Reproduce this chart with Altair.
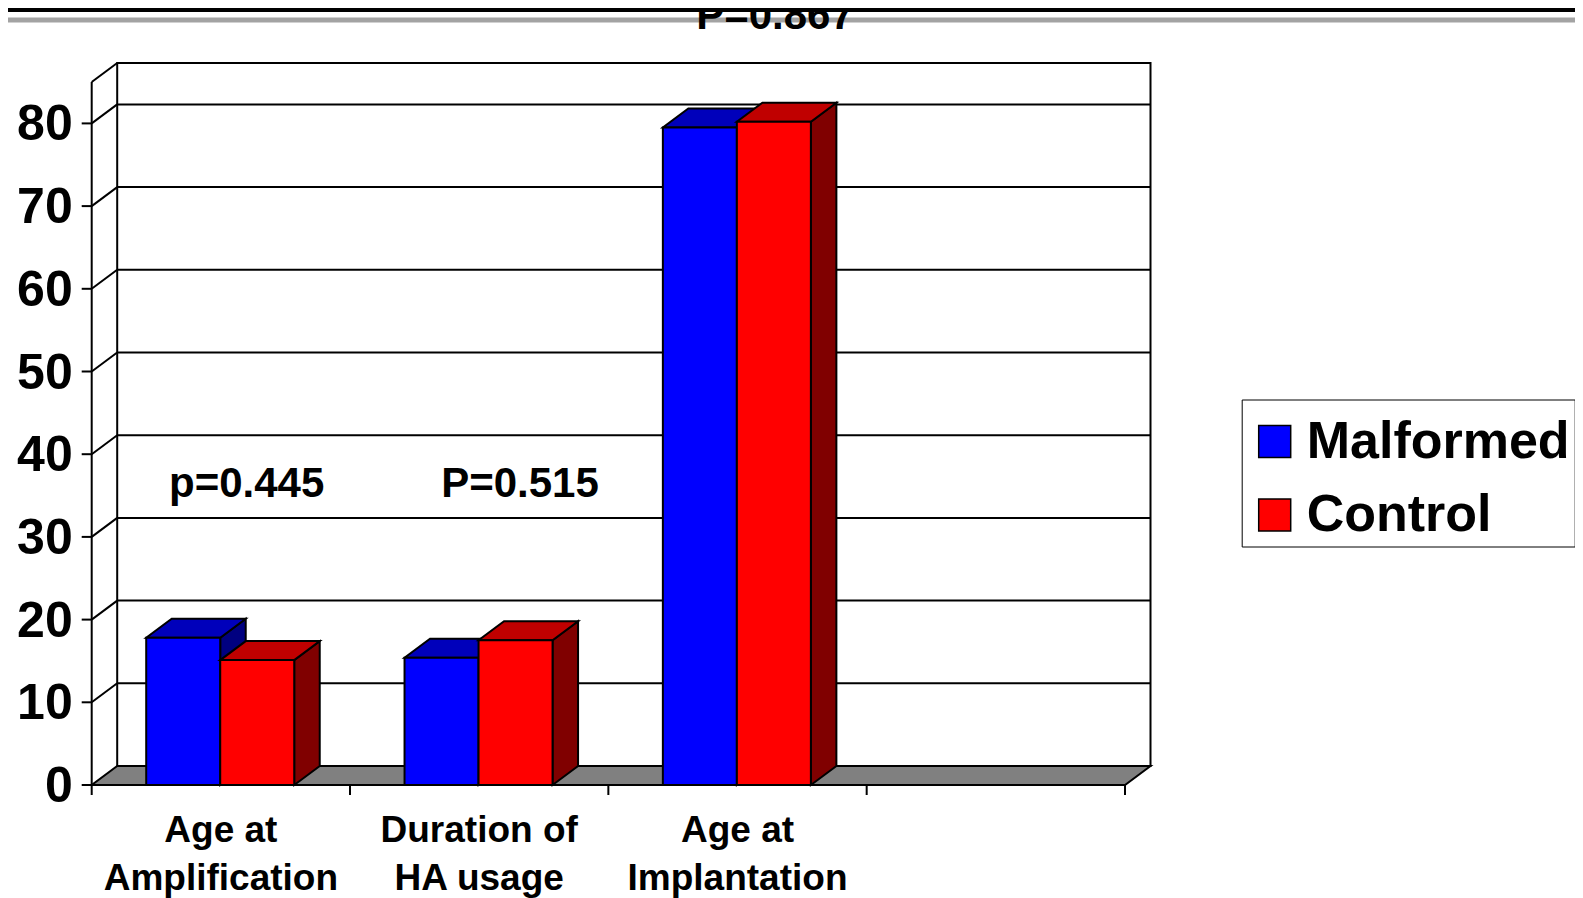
import altair as alt
import pandas as pd

# ---------------- data ----------------
categories = ["Age at\nAmplification", "Duration of\nHA usage", "Age at\nImplantation"]
series = ["Malformed", "Control"]
malformed = [17.8, 15.4, 79.5]
control = [15.1, 17.5, 80.2]
p_texts = ["p=0.445", "P=0.515", "P=0.867"]
y_ticks = [0, 10, 20, 30, 40, 50, 60, 70, 80]

# ------------- geometry of the pseudo-3D box (in scale units) -------------
N_SLOTS = 4
WALL_TOP = 85.0
DX = 25.5 / 258.3      # depth offset in category units
DY = 19.0 / 8.27       # depth offset in value units
BAR_START = 0.211
BAR_W = 0.2865
YTICK_LEN = 10 / 258.3
XTICK_LEN = 10 / 8.27
P_POS = [(0.600, 36.4), (1.658, 36.4), (2.645, 93.0)]

FONT = "Liberation Sans"
FRONT = {"Malformed": "#0000FF", "Control": "#FF0000"}
TOP = {"Malformed": "#0000BB", "Control": "#C00000"}
SIDE = {"Malformed": "#000080", "Control": "#800000"}

xs = alt.Scale(domain=[0, N_SLOTS], range=[83.7, 1117.0], nice=False, zero=False)
ys = alt.Scale(domain=[0, 80], range=[777.0, 115.4], nice=False, zero=False)

def X(f):
    return alt.X(f, scale=xs, axis=None)

def Y(f):
    return alt.Y(f, scale=ys, axis=None, stack=None)

# ------------- build tables -------------
bar_rows, top_rows, side_rows = [], [], []
for i, cat in enumerate(categories):
    for j, s in enumerate(series):
        v = (malformed if s == "Malformed" else control)[i]
        x0 = i + BAR_START + j * BAR_W
        x1 = x0 + BAR_W
        bar_rows.append(dict(cat=i, series=s, x0=x0, x1=x1, base=0.0, value=v))
        for x, lo, hi in [(x0, v, v), (x0 + DX, v, v + DY), (x1, v, v + DY), (x1 + DX, v + DY, v + DY)]:
            top_rows.append(dict(cat=i, series=s, x=x, lo=lo, hi=hi))
        for x, lo, hi in [(x1, 0.0, v), (x1 + DX, DY, v + DY)]:
            side_rows.append(dict(cat=i, series=s, x=x, lo=lo, hi=hi))
bars = pd.DataFrame(bar_rows)
tops = pd.DataFrame(top_rows)
sides = pd.DataFrame(side_rows)

wall = pd.DataFrame([dict(x0=DX, x1=N_SLOTS + DX, y0=DY, y1=WALL_TOP + DY)])
grid = pd.DataFrame([dict(x0=DX, x1=N_SLOTS + DX, y=v + DY) for v in y_ticks[1:]])
diag = pd.DataFrame([dict(x0=0.0, x1=DX, y0=v, y1=v + DY) for v in y_ticks[1:] + [WALL_TOP]])
front_axis = pd.DataFrame([dict(x=0.0, y0=0.0, y1=WALL_TOP)])
floor = pd.DataFrame([
    dict(x=0.0, lo=0.0, hi=0.0),
    dict(x=DX, lo=0.0, hi=DY),
    dict(x=float(N_SLOTS), lo=0.0, hi=DY),
    dict(x=N_SLOTS + DX, lo=DY, hi=DY),
])
yt = pd.DataFrame([dict(x0=-YTICK_LEN, x1=0.0, y=float(v), label=str(v)) for v in y_ticks])
xt = pd.DataFrame([dict(x=float(k), y0=0.0, y1=-XTICK_LEN) for k in range(N_SLOTS + 1)])
xl = pd.DataFrame([dict(x=i + 0.5, y=0.0, label=c) for i, c in enumerate(categories)])
pl = pd.DataFrame([dict(x=p[0], y=p[1], label=t) for p, t in zip(P_POS, p_texts)])
dummy = pd.DataFrame({"a": [0]})

layers = []
# back wall
layers.append(alt.Chart(wall).mark_rect(fill="white", stroke="black", strokeWidth=2).encode(
    x=X("x0:Q"), x2="x1:Q", y=Y("y0:Q"), y2="y1:Q"))
# gridlines on back wall
layers.append(alt.Chart(grid).mark_rule(color="black", strokeWidth=2).encode(
    x=X("x0:Q"), x2="x1:Q", y=Y("y:Q")))
# side wall diagonals
layers.append(alt.Chart(diag).mark_rule(color="black", strokeWidth=2).encode(
    x=X("x0:Q"), x2="x1:Q", y=Y("y0:Q"), y2="y1:Q"))
# front vertical axis
layers.append(alt.Chart(front_axis).mark_rule(color="black", strokeWidth=2).encode(
    x=X("x:Q"), y=Y("y0:Q"), y2="y1:Q"))
# floor
layers.append(alt.Chart(floor).mark_area(fill="#808080", stroke="black", strokeWidth=2, orient="vertical").encode(
    x=X("x:Q"), y=Y("lo:Q"), y2="hi:Q"))
# y ticks
layers.append(alt.Chart(yt).mark_rule(color="black", strokeWidth=2).encode(
    x=X("x0:Q"), x2="x1:Q", y=Y("y:Q")))
# x ticks
layers.append(alt.Chart(xt).mark_rule(color="black", strokeWidth=2).encode(
    x=X("x:Q"), y=Y("y0:Q"), y2="y1:Q"))

# bars
for s in series:
    layers.append(alt.Chart(sides[sides.series == s]).mark_area(
        fill=SIDE[s], stroke="black", strokeWidth=2, strokeJoin="miter", orient="vertical").encode(
        x=X("x:Q"), y=Y("lo:Q"), y2="hi:Q", detail="cat:N"))
    layers.append(alt.Chart(tops[tops.series == s]).mark_area(
        fill=TOP[s], stroke="black", strokeWidth=2, strokeJoin="miter", orient="vertical").encode(
        x=X("x:Q"), y=Y("lo:Q"), y2="hi:Q", detail="cat:N"))
    layers.append(alt.Chart(bars[bars.series == s]).mark_rect(stroke="black", strokeWidth=2).encode(
        x=X("x0:Q"), x2="x1:Q", y=Y("base:Q"), y2="value:Q",
        fill=alt.Fill("series:N", scale=alt.Scale(domain=series, range=[FRONT[k] for k in series]),
                      legend=alt.Legend(title=" "))))

# y tick labels
layers.append(alt.Chart(yt).mark_text(font=FONT, fontSize=50, fontWeight="bold", align="right",
                                      baseline="middle", dx=-19, dy=2, color="black").encode(
    x=X("x1:Q"), y=Y("y:Q"), text="label:N"))
# x category labels
layers.append(alt.Chart(xl).mark_text(font=FONT, fontSize=37, fontWeight="bold", align="center",
                                      baseline="alphabetic", dy=56.7, lineBreak="\n", lineHeight=48,
                                      color="black").encode(
    x=X("x:Q"), y=Y("y:Q"), text="label:N"))
# slide decoration: gray line
layers.append(alt.Chart(dummy).mark_rule(color="#a3a3a3", strokeWidth=5).encode(
    x=alt.value(0), x2=alt.value(1567), y=alt.value(12)))
# p-value labels
layers.append(alt.Chart(pl).mark_text(font=FONT, fontSize=42, fontWeight="bold", align="center",
                                      baseline="middle", color="black").encode(
    x=X("x:Q"), y=Y("y:Q"), text="label:N"))
# slide decoration: black band on top
layers.append(alt.Chart(dummy).mark_rect(color="black").encode(
    x=alt.value(0), x2=alt.value(1567), y=alt.value(0), y2=alt.value(4)))

chart = alt.layer(*layers).properties(
    width=1567, height=890, autosize=alt.AutoSizeParams(type="none"), padding=0,
    background="white",
).configure_view(stroke=None).configure_legend(
    orient="none", legendX=1233.7, legendY=391.5,
    fillColor="white", strokeColor="black",
    padding=5, rowPadding=21.5,
    titleFontSize=8, titlePadding=3,
    symbolType="square", symbolSize=1024, symbolStrokeColor="black", symbolStrokeWidth=1.5,
    symbolOpacity=1, symbolOffset=2,
    labelFont=FONT, labelFontSize=52, labelFontWeight="bold", labelColor="black",
    labelOffset=6, labelLimit=0,
)

chart.save("out.html", embed_options={"renderer": "svg", "actions": False})
